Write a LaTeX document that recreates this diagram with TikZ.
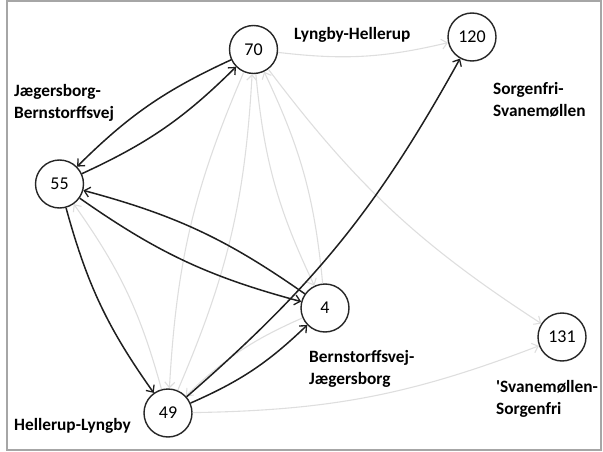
\documentclass[tikz,border=0pt]{standalone}
\usepackage{fontspec}
\setmainfont{Carlito}
\newfontfamily\plaincarlito{Carlito}[Ligatures=Common]
\usetikzlibrary{arrows.meta}
\begin{document}
\begin{tikzpicture}[x=1pt,y=1pt,
  vtx/.style={circle,draw=black!85,line width=1.4pt,fill=white,minimum size=48pt,inner sep=0pt,font=\fontsize{18}{20}\selectfont},
  lbl/.style={anchor=north west,inner sep=0pt,align=left,font=\fontsize{17.3}{22}\selectfont\bfseries},
  blk/.style={draw=black!88,line width=1.5pt,-{Straight Barb[length=5.5pt,width=10pt,line width=1.3pt]},bend right=10},
  gry/.style={draw=black!13,line width=1.1pt,-{Straight Barb[length=5.5pt,width=10pt]},bend right=10}]
\useasboundingbox (0,0) rectangle (603,-452);
\draw[gray!70,line width=1.2pt] (7,-1) rectangle (601,-450);
% nodes
\node[vtx] (n70)  at (253.5,-49.5) {70};
\node[vtx] (n120) at (472,-37) {120};
\node[vtx] (n55)  at (59.5,-184) {55};
\node[vtx] (n4)   at (325,-308) {4};
\node[vtx] (n131) at (562,-337) {131};
\node[vtx] (n49)  at (168,-413) {49};
% labels
\node[lbl] (l1) at (14,-84) {Jægersborg-\\Bernstorffsvej};
\node[lbl] (l2) at (294,-27) {Lyngby-Hellerup};
\node[lbl] (l3) at (493,-82) {Sorgenfri-\\Svanemøllen};
\node[lbl] (l4) at (309,-350) {Bernstorffsvej-\\Jægersborg};
\node[lbl] (l5) at (496,-380) {{\plaincarlito\bfseries '}Svanemøllen-\\Sorgenfri};
\node[lbl] (l6) at (14,-418) {Hellerup-Lyngby};
% grey edges
\draw[gry] (n70) to (n120);
\draw[gry] (n70) to (n131);
\draw[gry] (n49) to (n131);
\draw[gry] (n49) to (n55);
\draw[gry] (n70) to (n49);
\draw[gry] (n49) to (n70);
\draw[gry] (n70) to (n4);
\draw[gry] (n4) to (n70);
\draw[gry] (n4) to (n49);
% black edges
\draw[blk] (n70) to (n55);
\draw[blk] (n55) to (n70);
\draw[blk] (n55) to (n4);
\draw[blk] (n4) to (n55);
\draw[blk] (n55) to (n49);
\draw[blk] (n49) to (n120);
\draw[blk] (n49) to (n4);
\end{tikzpicture}
\end{document}
